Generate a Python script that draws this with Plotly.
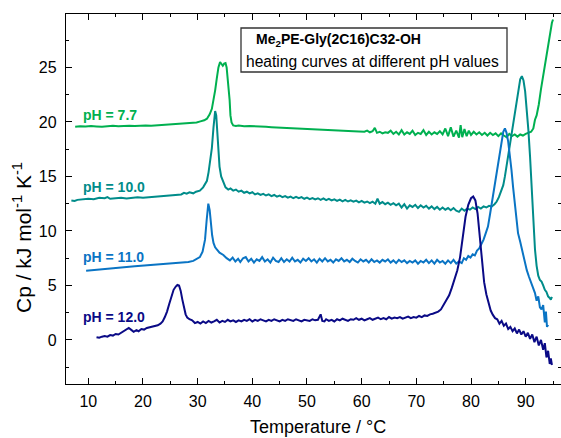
import plotly.graph_objects as go

# ---- data: (Temperature / °C, Cp / kJ mol-1 K-1) ----
ph77 = [(7.6,19.55),(8.5,19.6),(9.5,19.57),(10.5,19.62),(11.5,19.58),(12.5,19.55),(13.5,19.6),(14.5,19.64),(15.5,19.6),(16.5,19.63),(17.5,19.66),(18.5,19.62),(19.5,19.66),(20.5,19.68),(21.5,19.66),(22.5,19.7),(23.5,19.72),(24.5,19.74),(25.5,19.78),(26.5,19.82),(27.5,19.85),(28.5,19.88),(29.3,19.92),(29.8,19.95),(30.5,20.05),(31.2,20.15),(31.7,20.3),(32.2,20.7),(32.6,21.2),(32.9,21.9),(33.2,22.9),(33.5,24.0),(33.8,25.0),(34.1,25.5),(34.35,25.25),(34.6,25.15),(34.85,25.35),(35.1,25.4),(35.3,25.0),(35.5,24.0),(35.7,23.2),(35.85,22.0),(36.0,20.6),(36.2,19.95),(36.5,19.68),(37.0,19.62),(37.5,19.66),(38.5,19.6),(39.5,19.63),(40.5,19.58),(41.5,19.6),(42.5,19.55),(43.5,19.52),(44.5,19.5),(45.5,19.47),(46.5,19.45),(47.5,19.42),(48.5,19.4),(49.5,19.38),(50.5,19.36),(51.5,19.33),(52.5,19.3),(53.5,19.28),(54.5,19.25),(55.5,19.23),(56.5,19.2),(57.5,19.18),(58.5,19.15),(59.5,19.12),(60.5,19.1),(61.0,19.2),(61.5,19.05),(62.0,19.15),(62.4,19.45),(62.8,19.0),(63.3,19.1),(63.8,18.95),(64.3,19.05),(64.8,19.0),(65.3,19.2),(65.8,18.9),(66.3,19.1),(66.8,18.85),(67.3,19.25),(67.8,18.85),(68.3,19.05),(68.8,18.9),(69.3,19.2),(69.8,18.8),(70.3,19.0),(70.8,18.9),(71.3,19.25),(71.8,18.8),(72.3,19.1),(72.8,18.85),(73.3,19.05),(73.8,18.9),(74.3,19.15),(74.8,18.85),(75.3,19.4),(75.8,18.7),(76.3,19.5),(76.8,18.65),(77.3,19.2),(77.8,18.55),(78.1,19.7),(78.4,18.6),(78.8,19.35),(79.2,18.7),(79.6,19.2),(80.0,18.8),(80.5,19.1),(81.0,18.85),(81.5,19.05),(82.0,18.8),(82.5,19.0),(83.0,18.75),(83.5,19.0),(84.0,18.8),(84.5,18.95),(85.0,18.7),(85.5,18.95),(86.0,18.75),(86.5,18.6),(87.0,18.9),(87.5,18.7),(88.0,18.85),(88.5,18.65),(89.0,18.85),(89.5,18.75),(90.0,18.9),(90.5,19.0),(91.0,19.1),(91.4,19.4),(91.7,20.2),(92.0,20.6),(92.4,21.6),(92.8,23.0),(93.2,24.3),(93.6,25.5),(94.0,26.8),(94.4,28.0),(94.8,29.1),(95.0,29.4)]

ph100 = [(6.9,12.8),(7.5,12.75),(8.0,12.85),(9.0,12.9),(10.0,12.95),(11.0,12.9),(12.0,13.05),(13.0,13.0),(13.5,13.1),(14.0,12.95),(15.0,13.0),(16.0,13.05),(17.0,12.98),(18.0,13.02),(19.0,13.08),(20.0,13.05),(21.0,13.1),(22.0,13.12),(23.0,13.18),(24.0,13.2),(25.0,13.25),(26.0,13.3),(27.0,13.35),(27.5,13.5),(28.0,13.42),(28.5,13.55),(29.2,13.45),(29.7,13.6),(30.4,13.7),(31.0,14.0),(31.4,14.3),(31.7,14.6),(32.0,15.4),(32.3,16.5),(32.6,17.6),(32.9,19.5),(33.2,21.0),(33.4,20.6),(33.6,19.0),(33.8,17.2),(34.0,15.9),(34.3,15.0),(34.7,14.4),(35.1,14.0),(35.6,13.8),(36.0,13.9),(36.5,13.7),(37.0,13.8),(37.5,13.6),(38.0,13.7),(38.5,13.5),(39.0,13.6),(39.5,13.45),(40.0,13.55),(40.5,13.35),(41.0,13.45),(41.5,13.3),(42.0,13.4),(42.5,13.25),(43.0,13.35),(43.5,13.2),(44.0,13.3),(44.5,13.15),(45.0,13.25),(45.5,13.1),(46.0,13.2),(46.5,13.05),(47.0,13.15),(47.5,13.0),(48.0,13.12),(48.5,13.0),(49.0,13.1),(49.5,12.95),(50.0,13.05),(50.5,12.92),(51.0,13.02),(51.5,12.9),(52.0,13.0),(52.5,12.85),(53.0,12.98),(53.5,12.82),(54.0,12.95),(54.5,12.8),(55.0,12.9),(55.5,12.75),(56.0,12.88),(56.5,12.72),(57.0,12.85),(57.5,12.7),(58.0,12.8),(58.5,12.68),(59.0,12.78),(59.5,12.62),(60.0,12.75),(60.5,12.6),(61.0,12.7),(61.5,12.55),(62.0,12.68),(62.5,12.5),(62.9,12.95),(63.3,12.5),(63.8,12.65),(64.3,12.45),(64.8,12.6),(65.3,12.4),(65.8,12.55),(66.3,12.35),(66.8,12.5),(67.3,12.15),(67.8,12.45),(68.3,12.05),(68.8,12.35),(69.3,12.2),(69.8,12.4),(70.3,12.1),(70.8,12.35),(71.3,12.15),(71.8,12.3),(72.3,12.05),(72.8,12.25),(73.3,12.0),(73.8,12.2),(74.3,11.95),(74.8,12.15),(75.3,11.95),(75.8,12.1),(76.3,11.9),(76.8,12.1),(77.3,11.85),(77.8,11.75),(78.3,12.05),(78.8,11.85),(79.3,12.05),(79.8,11.95),(80.3,12.15),(80.8,12.0),(81.3,12.2),(81.8,12.05),(82.3,12.25),(82.8,12.15),(83.3,12.3),(83.8,12.25),(84.3,12.45),(84.7,12.7),(85.1,13.1),(85.5,13.6),(85.9,14.2),(86.2,15.0),(86.6,16.3),(87.0,17.6),(87.4,18.9),(87.8,20.0),(88.2,21.5),(88.6,22.8),(89.0,23.9),(89.3,24.2),(89.6,23.8),(89.9,22.8),(90.2,21.2),(90.5,19.2),(90.8,16.8),(91.1,13.8),(91.4,10.6),(91.7,8.3),(92.0,6.8),(92.3,5.9),(92.6,5.5),(92.9,5.35),(93.2,5.0),(93.5,4.6),(93.8,4.4),(94.1,4.0),(94.4,3.85),(94.6,3.7),(94.8,3.95)]

ph110 = [(9.6,6.35),(10.5,6.4),(11.5,6.45),(12.5,6.5),(13.5,6.55),(14.5,6.6),(15.5,6.62),(16.5,6.68),(17.5,6.72),(18.5,6.76),(19.5,6.8),(20.5,6.84),(21.5,6.88),(22.5,6.92),(23.5,6.95),(24.5,6.98),(25.5,7.0),(26.5,7.04),(27.5,7.08),(28.3,7.15),(29.2,7.25),(29.8,7.4),(30.4,7.6),(30.9,8.1),(31.35,9.2),(31.65,11.0),(31.95,12.5),(32.2,11.9),(32.4,10.7),(32.65,9.6),(32.9,8.9),(33.2,8.5),(33.5,8.3),(34.0,8.0),(34.7,7.8),(35.3,7.5),(35.9,7.3),(36.4,7.55),(36.9,7.2),(37.4,7.45),(37.8,7.15),(38.3,7.5),(38.8,7.6),(39.3,7.2),(39.8,7.45),(40.3,7.1),(40.8,7.4),(41.3,7.25),(41.8,7.6),(42.3,7.2),(42.8,7.4),(43.3,7.1),(43.8,7.55),(44.3,7.25),(44.8,7.15),(45.3,7.5),(45.8,7.15),(46.3,7.4),(46.8,7.2),(47.3,7.55),(47.8,7.2),(48.3,7.35),(48.8,7.1),(49.3,7.45),(49.8,7.25),(50.3,7.5),(50.8,7.2),(51.3,7.4),(51.8,7.1),(52.3,7.45),(52.8,7.2),(53.3,7.5),(53.8,7.2),(54.3,7.35),(54.8,7.1),(55.3,7.4),(55.8,7.25),(56.3,7.5),(56.8,7.2),(57.3,7.35),(57.8,7.15),(58.3,7.45),(58.8,7.25),(59.3,7.1),(59.8,7.4),(60.3,7.2),(60.8,7.35),(61.3,7.1),(61.8,7.4),(62.3,7.15),(62.8,7.3),(63.3,7.1),(63.8,7.35),(64.3,7.2),(64.8,7.4),(65.3,7.1),(65.8,7.3),(66.3,7.05),(66.8,7.35),(67.3,7.15),(67.8,7.3),(68.3,7.05),(68.8,7.25),(69.3,7.1),(69.8,7.3),(70.3,7.0),(70.8,7.25),(71.3,7.1),(71.8,7.35),(72.3,7.05),(72.8,7.3),(73.3,7.0),(73.8,7.35),(74.3,7.1),(74.8,7.25),(75.3,7.0),(75.8,7.3),(76.3,7.05),(76.8,7.35),(77.3,7.0),(77.8,7.2),(78.3,7.05),(78.7,7.5),(79.1,7.35),(79.5,7.7),(79.9,7.55),(80.3,7.85),(80.7,7.75),(81.1,8.2),(81.5,8.4),(81.9,8.8),(82.3,9.2),(82.7,9.8),(83.1,10.4),(83.5,11.6),(83.9,12.9),(84.3,14.2),(84.7,15.6),(85.1,16.9),(85.5,18.2),(85.9,19.1),(86.2,19.4),(86.5,19.0),(86.8,18.2),(87.1,17.0),(87.4,15.6),(87.7,14.0),(88.0,12.5),(88.3,10.9),(88.6,9.8),(89.0,9.0),(89.3,8.3),(89.7,7.3),(90.2,6.4),(90.6,5.8),(91.0,5.3),(91.4,4.7),(91.7,4.3),(92.0,3.6),(92.3,4.0),(92.6,3.0),(92.9,2.8),(93.2,3.2),(93.5,1.6),(93.7,2.6),(93.9,1.2),(94.1,1.4)]

ph120 = [(11.5,0.25),(12.0,0.2),(12.5,0.3),(13.0,0.35),(13.5,0.3),(14.0,0.45),(14.5,0.4),(15.0,0.55),(15.5,0.5),(16.0,0.65),(16.5,0.8),(17.0,1.0),(17.4,1.1),(17.8,0.95),(18.3,0.75),(18.8,0.9),(19.2,0.8),(19.7,1.0),(20.2,0.95),(20.7,1.1),(21.2,1.15),(21.7,1.2),(22.2,1.3),(22.7,1.35),(23.2,1.5),(23.6,1.7),(24.0,2.1),(24.4,2.6),(24.8,3.3),(25.2,4.0),(25.6,4.6),(26.0,4.9),(26.3,5.05),(26.6,5.0),(26.9,4.5),(27.2,3.7),(27.5,2.9),(27.8,2.35),(28.1,2.05),(28.5,1.9),(29.0,1.8),(29.5,1.55),(30.0,1.65),(30.5,1.5),(31.0,1.7),(31.5,1.55),(32.0,1.75),(32.5,1.6),(33.0,1.7),(33.5,1.85),(34.0,1.6),(34.5,1.75),(35.0,1.65),(35.5,1.85),(36.0,1.7),(36.5,1.8),(37.0,1.65),(37.5,1.8),(38.0,1.7),(38.5,1.85),(39.0,1.75),(39.5,1.9),(40.0,1.7),(40.5,1.85),(41.0,1.75),(41.5,1.9),(42.0,1.8),(42.5,1.7),(43.0,1.85),(43.5,1.75),(44.0,1.9),(44.5,1.8),(45.0,1.7),(45.5,1.85),(46.0,1.75),(46.5,1.9),(47.0,1.8),(47.5,1.75),(48.0,1.9),(48.5,1.8),(49.0,1.7),(49.5,1.85),(50.0,1.8),(50.5,1.75),(51.0,1.9),(51.5,1.8),(52.0,1.85),(52.5,2.35),(52.8,1.75),(53.2,1.7),(53.5,1.9),(54.0,1.75),(54.5,1.85),(55.0,1.7),(55.5,1.9),(56.0,1.8),(56.5,1.95),(57.0,1.85),(57.5,1.75),(58.0,1.9),(58.5,1.85),(59.0,2.0),(59.5,1.85),(60.0,1.95),(60.5,1.8),(61.0,1.9),(61.5,2.0),(62.0,1.85),(62.5,1.95),(63.0,2.05),(63.5,1.9),(64.0,2.0),(64.5,1.9),(65.0,2.1),(65.5,1.95),(66.0,2.05),(66.5,2.0),(67.0,2.1),(67.5,1.95),(68.0,2.05),(68.5,2.15),(69.0,2.0),(69.5,2.1),(70.0,2.05),(70.5,2.2),(71.0,2.1),(71.5,2.25),(72.0,2.2),(72.5,2.35),(73.0,2.4),(73.5,2.5),(74.0,2.6),(74.5,2.8),(75.0,3.2),(75.5,3.6),(76.0,4.1),(76.5,4.8),(77.0,5.5),(77.5,6.4),(78.0,7.6),(78.5,9.6),(79.0,11.3),(79.5,12.4),(80.0,13.0),(80.4,13.15),(80.8,12.8),(81.2,11.6),(81.6,9.4),(82.0,7.0),(82.4,5.3),(82.8,4.2),(83.2,3.3),(83.6,2.7),(84.0,2.3),(84.4,2.0),(84.8,1.9),(85.2,1.5),(85.6,1.75),(86.0,1.3),(86.4,1.5),(86.8,1.0),(87.2,1.2),(87.6,0.8),(88.0,1.05),(88.4,0.6),(88.8,0.95),(89.2,0.5),(89.6,0.8),(90.0,0.3),(90.4,0.65),(90.8,0.1),(91.2,0.5),(91.6,-0.2),(92.0,0.3),(92.4,-0.5),(92.8,0.0),(93.2,-0.9),(93.5,-0.3),(93.8,-1.6),(94.1,-1.0),(94.4,-2.2),(94.6,-1.7),(94.8,-2.3)]

series_names = ["pH = 7.7", "pH = 10.0", "pH = 11.0", "pH = 12.0"]
series_data = [ph77, ph100, ph110, ph120]
series_colors = ["#00B050", "#008C8A", "#0A74C4", "#0A0A86"]
label_x = [8.6, 8.6, 8.6, 8.6]
label_y = [20.6, 14.0, 7.6, 2.1]

title_line1 = "<b>Me<sub>2</sub>PE-Gly(2C16)C32-OH</b>"
title_line2 = "heating curves at different pH values"
x_title = "Temperature / °C"
y_title = "Cp&nbsp;/&nbsp;kJ mol<sup>-1</sup>&nbsp;K<sup>-1</sup>"

FONT = "Liberation Sans, Arial, sans-serif"

fig = go.Figure()
for name, data, col in zip(series_names, series_data, series_colors):
    fig.add_trace(go.Scatter(
        x=[p[0] for p in data], y=[p[1] for p in data],
        mode="lines", name=name, line=dict(color=col, width=2),
        showlegend=False, hoverinfo="skip"))

for name, col, lx, ly in zip(series_names, series_colors, label_x, label_y):
    fig.add_annotation(x=lx, y=ly, xref="x", yref="y", text="<b>%s</b>" % name,
                       showarrow=False, xanchor="left", yanchor="middle",
                       font=dict(family=FONT, size=14, color=col))

W, H = 561, 438
ML, MR, MT, MB = 66, 0, 14, 54
PW, PH = W - ML - MR, H - MT - MB

def px_x(p):
    return (p - ML) / PW

def px_y(p):
    return (H - MB - p) / PH

# title box
fig.add_shape(type="rect", xref="paper", yref="paper",
              x0=px_x(241), x1=px_x(507), y0=px_y(72), y1=px_y(28),
              line=dict(color="#333333", width=1.3), fillcolor="white")
fig.add_annotation(xref="paper", yref="paper", x=px_x(254), y=px_y(40),
                   text=title_line1, showarrow=False, xanchor="left", yanchor="middle",
                   font=dict(family=FONT, size=14, color="black"))
fig.add_annotation(xref="paper", yref="paper", x=px_x(244), y=px_y(61),
                   text=title_line2, showarrow=False, xanchor="left", yanchor="middle",
                   font=dict(family=FONT, size=15.6, color="black"))

# axis titles
fig.add_annotation(xref="paper", yref="paper", x=px_x(318), y=px_y(427),
                   text=x_title, showarrow=False, xanchor="center", yanchor="middle",
                   font=dict(family=FONT, size=18, color="black"))
fig.add_annotation(xref="paper", yref="paper", x=px_x(22), y=px_y(238),
                   text=y_title, showarrow=False, xanchor="center", yanchor="middle",
                   textangle=-90, font=dict(family=FONT, size=21, color="black"))

axis_common = dict(showline=True, linecolor="black", linewidth=1.3, mirror="ticks",
                   ticks="inside", ticklen=6, tickwidth=1.2, tickcolor="black",
                   showgrid=False, zeroline=False,
                   tickfont=dict(family=FONT, size=16, color="black"))

fig.update_xaxes(range=[5.92, 96.46], tick0=0, dtick=10, ticklabelstandoff=3,
                 minor=dict(ticks="inside", ticklen=3, tickcolor="black", dtick=5, tick0=0, showgrid=False),
                 **axis_common)
fig.update_yaxes(range=[-4.04, 29.9], tick0=0, dtick=5, ticklabelstandoff=5,
                 minor=dict(ticks="inside", ticklen=3, tickcolor="black", dtick=2.5, tick0=0, showgrid=False),
                 **axis_common)

fig.update_layout(width=W, height=H, margin=dict(l=ML, r=MR, t=MT, b=MB),
                  paper_bgcolor="white", plot_bgcolor="white",
                  font=dict(family=FONT, color="black"))

fig.write_html("out.html")
